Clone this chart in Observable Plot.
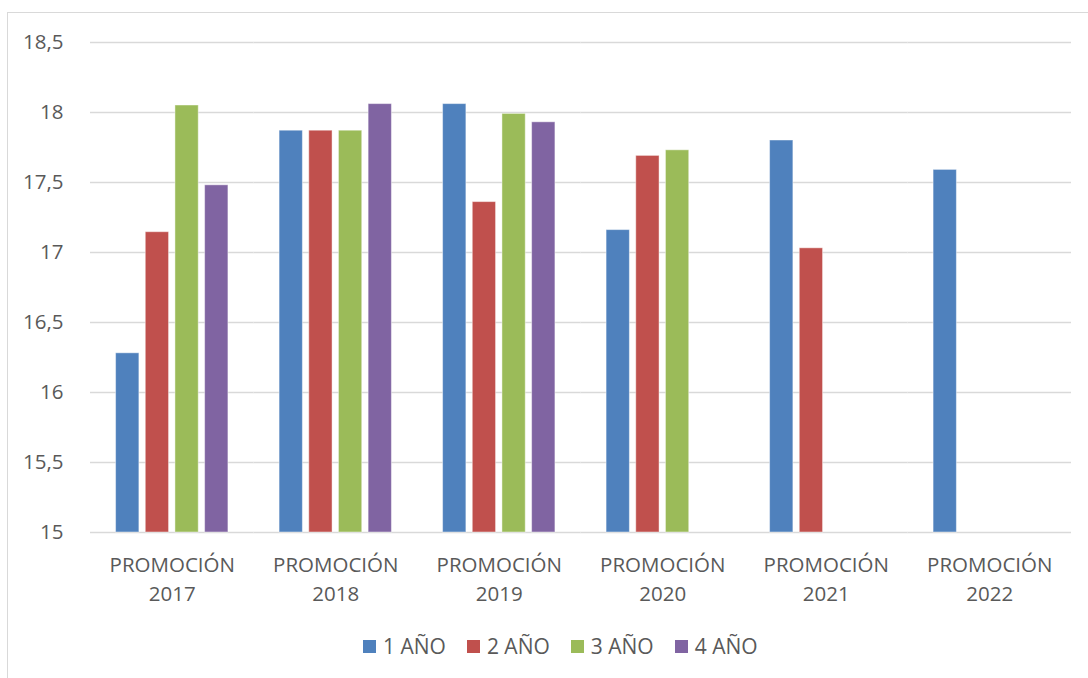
<!DOCTYPE html>
<html>
<head>
<meta charset="utf-8">
<script src="https://cdn.jsdelivr.net/npm/d3@7"></script>
<script src="https://cdn.jsdelivr.net/npm/@observablehq/plot@0.6"></script>
<style>
  body { margin: 0; background: #fff; font-family: "Open Sans", sans-serif; }
  #wrap { position: relative; width: 1088px; height: 678px; overflow: hidden; background: #fff; }
  #frame { position: absolute; left: 7px; top: 12px; width: 1200px; height: 800px; border: 1.5px solid #d9d9d9; box-sizing: border-box; }
  #chart { position: absolute; left: 0; top: 0; }
  #legend { position: absolute; top: 636px; left: 363px; display: flex; align-items: center; line-height: 20px; font-size: 21px; color: #595959; }
  .item { display: flex; align-items: center; margin-right: 21px; }
  .sw { width: 13px; height: 13px; margin-right: 7px; }
</style>
</head>
<body>
<div id="wrap">
  <div id="frame"></div>
  <div id="chart"></div>
  <div id="legend"></div>
</div>
<script>
// Data
const promociones = ["2017", "2018", "2019", "2020", "2021", "2022"];
const series = ["1 AÑO", "2 AÑO", "3 AÑO", "4 AÑO"];
const colores = ["#4F81BD", "#C0504D", "#9BBB59", "#8064A2"];
const anio1 = [16.28, 17.87, 18.06, 17.16, 17.80, 17.59];
const anio2 = [17.145, 17.87, 17.36, 17.69, 17.03, null];
const anio3 = [18.05, 17.87, 17.99, 17.73, null, null];
const anio4 = [17.48, 18.06, 17.93, null, null, null];
const yDomain = [15, 18.5];
const yTicks = [15, 15.5, 16, 16.5, 17, 17.5, 18, 18.5];

const valores = [anio1, anio2, anio3, anio4];
const data = [];
promociones.forEach((p, i) => {
  series.forEach((s, j) => {
    const v = valores[j][i];
    if (v != null) data.push({promo: p, serie: s, value: v});
  });
});

const chart = Plot.plot({
  width: 1088,
  height: 610,
  marginLeft: 90,
  marginRight: 17,
  marginTop: 42,
  marginBottom: 78,
  style: { fontFamily: "'Open Sans', sans-serif", fontSize: "21px", color: "#595959", background: "transparent" },
  fx: { domain: promociones, padding: 0, round: false, label: null, axis: null },
  x: { domain: series, paddingInner: 0.215, paddingOuter: 0.862, round: false, axis: null },
  y: { domain: yDomain, label: null, axis: null },
  color: { domain: series, range: colores },
  marks: [
    Plot.gridY(yTicks, { stroke: "#d9d9d9", strokeOpacity: 1, strokeWidth: 1.5 }),
    Plot.barY(data, {
      fx: "promo", x: "serie", y1: yDomain[0], y2: "value", fill: "serie",
      stroke: "white", strokeOpacity: 0.45, strokeWidth: 1
    }),
    Plot.axisY(yTicks, {
      tickSize: 0, tickPadding: 27, fontSize: 20.5, fill: "#595959",
      tickFormat: d => String(d).replace(".", ","), label: null
    }),
    Plot.axisFx({
      anchor: "bottom", tickSize: 0, tickPadding: 19, fontSize: 20.5, fill: "#595959",
      lineHeight: 1.4, label: null, tickFormat: d => `PROMOCIÓN\n${d}`
    })
  ]
});
document.getElementById("chart").appendChild(chart);

const legend = document.getElementById("legend");
series.forEach((s, i) => {
  const item = document.createElement("div");
  item.className = "item";
  const sw = document.createElement("div");
  sw.className = "sw";
  sw.style.background = colores[i];
  const t = document.createElement("span");
  t.textContent = s;
  item.appendChild(sw);
  item.appendChild(t);
  legend.appendChild(item);
});
</script>
</body>
</html>
